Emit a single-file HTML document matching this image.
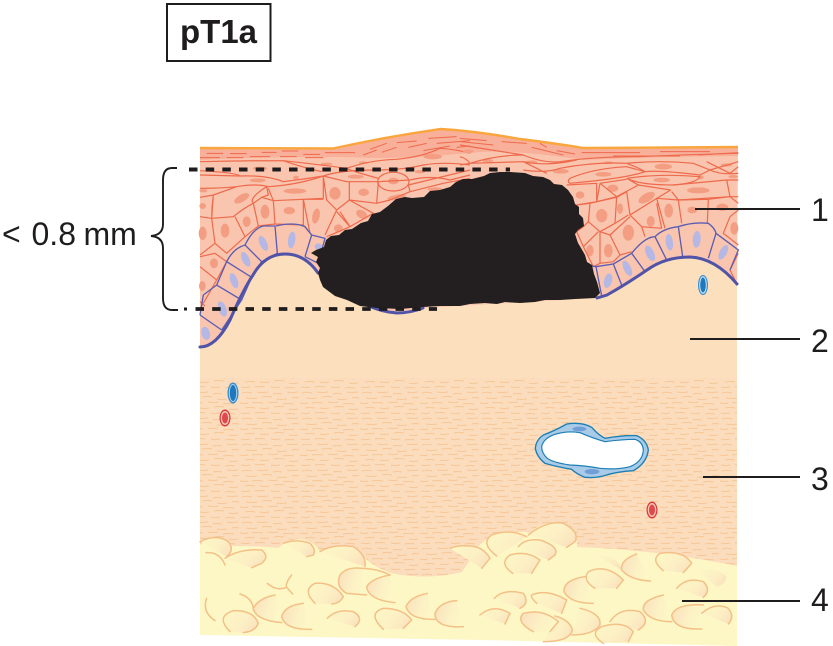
<!DOCTYPE html>
<html><head><meta charset="utf-8"><style>
html,body{margin:0;padding:0;background:#fff;width:833px;height:646px;overflow:hidden}
svg{display:block}
text{font-family:"Liberation Sans",sans-serif;fill:#1f1c1d}
</style></head><body>
<svg width="833" height="646" viewBox="0 0 833 646" xmlns="http://www.w3.org/2000/svg">
<defs>
<pattern id="fib" width="60" height="26" patternUnits="userSpaceOnUse">
<rect width="60" height="26" fill="#fbdcbc"/>
<path d="M2 3q5-1.500 10 0M17 2q5 1 11 0M33 4q4-1 9 0M47 2q5 1 11 0M6 8q6 1 11 0M22 7q5-1 10 0M37 9q5 1 10 0M52 8q3-1 7 0M0 13q5 1 8 0M12 13q5-1 11 0M28 12q5 1 10 0M43 14q5-1 11 0M5 18q5-1 10 0M20 18q4 1 9 0M34 17q5-1 10 0M49 19q4 1 9 0M1 23q5 1 9 0M15 23q5-1 10 0M31 23q4 1 9 0M45 24q5-1 10 0" fill="none" stroke="#f7c797" stroke-width="1.100"/>
</pattern>
<linearGradient id="lump" x1="0" y1="0.2" x2="1" y2="0.7">
<stop offset="0" stop-color="#fdf7c6"/><stop offset="0.6" stop-color="#fcefc4"/><stop offset="1" stop-color="#fae2be"/>
</linearGradient>
<linearGradient id="lumpL" x1="0" y1="0.3" x2="1" y2="0.6">
<stop offset="0" stop-color="#fae1bd"/><stop offset="0.6" stop-color="#fcf2c5"/><stop offset="1" stop-color="#fdf7c6"/>
</linearGradient>
</defs>

<!-- dermis -->
<rect x="200" y="250" width="537" height="135" fill="#fcdfbd"/>
<rect x="200" y="378" width="537" height="200" fill="url(#fib)"/>

<!-- fat base -->
<path d="M200 545Q212 535 232 546Q262 546 278 548Q298 532 315 545Q322 552 318 552Q340 540 362 556Q378 570 395 574Q430 580 462 572L470 560Q475 545 492 536Q520 530 530 533Q545 518 565 525Q578 535 577 547Q660 550 737 566L737 646L480 640L200 635Z" fill="#fdf7c6"/>

<!-- fat lumps left -->
<g transform="translate(190 500) scale(.33333)" fill="url(#lumpL)" stroke="#f3c087" stroke-width="4.500" stroke-linecap="round" stroke-linejoin="round">
<path d="M30 125Q80 100 115 125Q135 150 110 170" fill="url(#lump)"/>
<path d="M48 158Q90 155 105 195" fill="none"/>
<path d="M105 175Q150 145 215 150Q240 170 215 190L185 203" fill="url(#lump)"/>
<path d="M280 130Q320 115 360 130Q380 150 370 165L350 170" fill="url(#lump)"/>
<path d="M390 155Q430 130 490 140Q530 165 525 200" fill="url(#lump)"/>
<path d="M515 205Q560 205 600 225" fill="none"/>
<path d="M515 205Q470 200 450 225Q435 260 470 280L530 285"/>
<path d="M600 225Q545 235 530 260Q535 300 615 308"/>
<path d="M375 310Q335 270 375 250Q430 245 460 290Q450 310 425 312" fill="url(#lump)"/>
<path d="M75 362Q35 335 50 295" fill="none"/>
<path d="M150 282Q190 295 190 330" fill="none"/>
<path d="M120 395Q75 350 130 332Q190 330 205 370Q195 395 160 398" fill="url(#lump)"/>
<path d="M255 285Q205 295 190 325Q195 360 275 368"/>
<path d="M365 388Q285 390 275 350Q285 315 340 310"/>
<path d="M412 355Q440 325 490 335Q525 355 495 380" fill="url(#lump)"/>
<path d="M580 388Q530 340 580 325Q640 325 665 360L640 385" fill="url(#lump)"/>
<path d="M712 280Q660 290 648 320Q660 360 735 358"/>
<path d="M820 380Q735 385 735 340Q750 305 800 302"/>
<path d="M232 250Q260 275 290 262M305 225Q285 250 290 262L308 282" fill="none"/>
</g>
<g transform="translate(460 400) scale(.33333)" fill="url(#lumpL)" stroke="#f3c087" stroke-width="4.500" stroke-linecap="round" stroke-linejoin="round">
<path d="M205 405Q260 360 310 370Q360 395 345 425L320 442" fill="url(#lump)"/>
<path d="M110 468Q60 430 95 405Q150 385 200 410" fill="url(#lump)"/>
<path d="M175 440Q195 415 240 420Q300 440 285 465L265 480" fill="url(#lump)"/>
<path d="M158 520Q115 490 150 465Q200 450 240 480L215 520" fill="url(#lump)"/>
<path d="M-30 445Q-5 435 30 438Q70 440 90 475L65 505" fill="url(#lump)"/>
<path d="M400 462Q475 465 485 510" fill="url(#lump)" stroke="none"/>
<path d="M530 462Q480 480 485 510Q510 540 572 543"/>
<path d="M610 512Q570 480 600 460Q670 450 695 490L670 518" fill="url(#lump)"/>
<path d="M405 565Q365 540 385 515Q440 490 490 540L470 565" fill="url(#lump)"/>
<path d="M375 530Q310 540 312 575Q330 610 400 610"/>
<path d="M710 510Q770 500 800 530Q795 555 770 560" fill="url(#lump)" stroke="none"/>
<path d="M650 565Q680 530 730 545Q755 570 730 592" fill="url(#lump)"/>
<path d="M610 585Q545 600 550 630Q570 665 635 665"/>
<path d="M725 687Q640 690 635 645Q650 610 730 615"/>
<path d="M725 640Q765 605 805 625Q825 650 805 672" fill="url(#lump)"/>
<path d="M103 595Q130 565 190 580Q210 610 180 625" fill="url(#lump)"/>
<path d="M230 610Q210 590 215 585Q260 565 320 600L305 640" fill="url(#lump)"/>
<path d="M60 645Q100 610 150 640L135 672" fill="url(#lump)"/>
<path d="M360 625Q425 640 420 675Q400 705 335 705" fill="url(#lump)"/>
<path d="M250 725Q330 725 337 690Q330 660 285 648" fill="url(#lump)"/>
<path d="M220 695Q165 665 190 640Q250 625 295 665L270 695" fill="url(#lumpL)"/>
<path d="M450 665Q480 620 540 635Q575 665 535 690" fill="url(#lump)"/>
<path d="M430 730Q385 700 425 680Q490 660 520 695L505 725" fill="url(#lump)"/>
</g>

<!-- epidermis -->
<path d="M200 147L333 148Q385 137 440 129Q475 131 520 139Q560 144 583 148L738 147L737 284Q715 258 690 257Q665 257 647 270Q625 285 607 295L597 298L423 308L397 313L363 303Q335 290 318 273Q305 254 285 254Q265 254 253 275Q240 295 230 320Q215 346 200 347Z" fill="#f9c5af"/>
<path d="M200 147L333 148Q385 137 440 129Q475 131 520 139Q560 144 583 148L738 147L738 156Q640 157 585 160Q520 150 480 152Q420 158 375 158Q300 155 200 160Z" fill="#f8b09a"/>
<path d="M200 148L333 148.500Q385 137 440 129Q475 131 520 139Q560 144 583 148L738 147" fill="none" stroke="#f8a63d" stroke-width="2.400"/>

<!-- keratinocytes left -->
<g transform="translate(190 120) scale(.33333)">
<g fill="#f39e82">
<ellipse cx="155" cy="235" rx="25" ry="11" transform="rotate(-30 155 235)"/><ellipse cx="315" cy="213" rx="34" ry="8"/>
<ellipse cx="435" cy="220" rx="17" ry="19"/><ellipse cx="521" cy="217" rx="16" ry="11"/>
<ellipse cx="610" cy="183" rx="16" ry="10"/><ellipse cx="225" cy="275" rx="13" ry="21"/>
<ellipse cx="298" cy="272" rx="17" ry="11"/><ellipse cx="378" cy="288" rx="11" ry="23" transform="rotate(12 378 288)"/>
<ellipse cx="170" cy="305" rx="12" ry="16"/><ellipse cx="105" cy="332" rx="13" ry="21"/>
<ellipse cx="38" cy="340" rx="12" ry="20"/><ellipse cx="72" cy="430" rx="12" ry="15"/>
<ellipse cx="37" cy="498" rx="10" ry="15"/><ellipse cx="445" cy="325" rx="13" ry="12"/>
<ellipse cx="515" cy="283" rx="18" ry="12" transform="rotate(30 515 283)"/><ellipse cx="38" cy="258" rx="10" ry="9"/>
<ellipse cx="203" cy="181" rx="24" ry="6"/><ellipse cx="318" cy="173" rx="9" ry="6"/>
<ellipse cx="497" cy="170" rx="24" ry="6"/><ellipse cx="410" cy="132" rx="18" ry="4"/>
<ellipse cx="520" cy="128" rx="14" ry="4"/><ellipse cx="728" cy="110" rx="28" ry="8"/>
<ellipse cx="620" cy="232" rx="28" ry="8" transform="rotate(-10 620 232)"/><ellipse cx="690" cy="155" rx="16" ry="5"/>
<ellipse cx="210" cy="145" rx="22" ry="5"/><ellipse cx="735" cy="208" rx="22" ry="6"/><ellipse cx="40" cy="212" rx="12" ry="5"/>
</g>
<g fill="none" stroke="#ee6a4c" stroke-width="3.600" stroke-linejoin="round">
<path d="M30 125Q150 122 280 122Q400 135 470 145Q540 120 620 118Q700 110 750 85Q800 88 840 100"/>
<path d="M30 165L150 168Q230 165 280 185Q340 178 400 168Q450 150 560 150Q640 150 700 135Q760 125 840 135"/>
<path d="M280 122Q330 140 395 155M470 145Q490 155 565 175M150 168Q140 158 30 152M400 168L470 185L565 185"/>
<path d="M30 205Q90 205 140 200L70 225L30 232M70 225L140 200Q200 190 235 200Q320 195 400 168"/>
<path d="M70 225L65 295L30 290M70 225Q65 260 65 295L130 290Q160 265 190 250Q175 235 230 200L235 225L215 232L190 250"/>
<path d="M235 205L250 242L400 235L400 170M215 232L250 242L255 312L205 318L190 250M255 312L340 315L340 238M250 242L340 238L400 238"/>
<path d="M400 170L410 240L440 270L478 240L478 185M478 240L560 250L565 185M440 270L405 345M340 238L360 340M340 315L365 345"/>
<path d="M135 290L165 350L205 318M65 295L75 370L110 400L165 350M75 370L30 405M30 410L75 400L110 425L80 480L30 440M80 480L40 550"/>
<path d="M450 275L480 320L550 280L478 240M440 275L480 320L410 350M560 250L600 240L660 215L760 190L840 175M660 215L655 195L840 150"/>
<ellipse cx="610" cy="185" rx="47" ry="28"/>
<path d="M565 185L660 180M660 180Q720 165 780 180L840 165M30 545L45 558"/>
</g>
<path d="M50 100H100M120 101H170M215 97H260M275 93H325M340 103H390M405 98H495M540 88L590 70M620 68L680 63M715 55L800 50M30 113H90M110 113H160M180 110H240M270 110H320M345 113H400M520 105L560 90M575 97L620 82M655 82L710 70M740 70L840 62M700 92L780 78M800 82L840 78" fill="none" stroke="#ee6a4c" stroke-width="3"/>
</g>

<!-- keratinocytes right -->
<g transform="translate(460 120) scale(.33333)">
<g fill="#f39e82">
<ellipse cx="360" cy="225" rx="13" ry="11"/><ellipse cx="458" cy="205" rx="17" ry="11"/>
<ellipse cx="560" cy="233" rx="27" ry="13" transform="rotate(-30 560 233)"/><ellipse cx="715" cy="211" rx="34" ry="9"/>
<ellipse cx="480" cy="266" rx="9" ry="16"/><ellipse cx="425" cy="287" rx="17" ry="20"/>
<ellipse cx="626" cy="272" rx="13" ry="21"/><ellipse cx="697" cy="270" rx="15" ry="10"/>
<ellipse cx="787" cy="262" rx="18" ry="11"/><ellipse cx="572" cy="304" rx="12" ry="16"/>
<ellipse cx="505" cy="338" rx="17" ry="24"/><ellipse cx="445" cy="392" rx="13" ry="20"/>
<ellipse cx="390" cy="392" rx="11" ry="17"/><ellipse cx="823" cy="325" rx="12" ry="19"/>
<ellipse cx="610" cy="140" rx="26" ry="9"/><ellipse cx="430" cy="163" rx="24" ry="7"/>
<ellipse cx="605" cy="180" rx="25" ry="7"/><ellipse cx="302" cy="154" rx="24" ry="7"/>
<ellipse cx="722" cy="172" rx="9" ry="6"/><ellipse cx="800" cy="135" rx="18" ry="5"/>
<ellipse cx="25" cy="94" rx="16" ry="6"/><ellipse cx="84" cy="122" rx="16" ry="5"/>
<ellipse cx="215" cy="126" rx="18" ry="5"/><ellipse cx="445" cy="128" rx="15" ry="4"/><ellipse cx="820" cy="170" rx="15" ry="5"/>
</g>
<g fill="none" stroke="#ee6a4c" stroke-width="3.600" stroke-linejoin="round">
<path d="M0 75L190 105Q250 130 300 125Q400 110 540 110Q650 105 835 100"/>
<path d="M0 110Q20 115 30 130Q110 105 190 105M30 130L190 125L260 160M0 135L30 130M190 125Q260 140 350 120"/>
<path d="M190 150Q260 160 300 145Q400 125 500 130Q600 120 700 130L750 150L835 125M740 125L810 160L835 140"/>
<path d="M500 130Q540 145 555 155Q600 150 720 165L750 150Q780 165 835 160"/>
<path d="M330 175Q400 145 500 140L555 155Q500 175 330 190Q320 185 330 175"/>
<path d="M500 175Q600 160 720 170Q710 190 640 195Q540 195 500 175M500 175L535 195"/>
<path d="M420 190L500 178M470 230L535 195L632 210M320 195L410 190L410 245L350 255M420 190L410 245L470 230L420 190"/>
<path d="M640 195L800 180L810 230L655 240L635 215M800 180H835M810 230H835"/>
<path d="M500 215L510 285L590 235L632 210M470 232L500 215M470 230L465 310L505 285M390 250L470 232M390 250L385 305L420 335L465 310M350 255L390 250M385 305L370 320L350 335"/>
<path d="M590 235L655 240L665 310M590 235L615 325M745 238L742 310M655 240L745 238M510 285L545 320L605 325M590 250L605 325M545 320L555 350"/>
<path d="M745 238L810 230L835 250M810 290L790 340L835 375M810 290L835 270"/>
<path d="M450 345L510 290M450 345L480 405L515 395M420 335L450 345M420 335L420 430L460 425L480 405M370 380L415 335M370 380L400 440L420 430M350 335L370 380"/>
<path d="M835 400L810 450L830 490"/>
</g>
<path d="M0 55L80 62M0 65L100 75M125 65L200 70M215 82L310 105M240 70L260 82M290 92L345 102M365 98H540M460 108H660M600 95H750M715 105L835 98" fill="none" stroke="#ee6a4c" stroke-width="3"/>
</g>

<!-- basal cells left -->
<g transform="translate(190 120) scale(.33333)">
<g fill="#b5b8e4">
<ellipse cx="47" cy="640" rx="13" ry="20" transform="rotate(-15 47 640)"/>
<ellipse cx="97" cy="567" rx="12" ry="24" transform="rotate(-20 97 567)"/>
<ellipse cx="132" cy="482" rx="11" ry="24" transform="rotate(-20 132 482)"/>
<ellipse cx="167" cy="418" rx="11" ry="24" transform="rotate(-25 167 418)"/>
<ellipse cx="220" cy="370" rx="11" ry="24" transform="rotate(-25 220 370)"/>
<ellipse cx="305" cy="360" rx="11" ry="25" transform="rotate(8 305 360)"/>
<ellipse cx="385" cy="380" rx="11" ry="10"/>
</g>
<path d="M30 585L95 630M40 525L30 585M40 525L80 495L155 540L95 630M80 495L110 425L185 472L155 540M110 425Q130 385 165 375L215 425L185 472M165 375Q190 325 220 318L255 318L262 400L215 425M258 318Q310 305 345 320L365 345L345 410M365 345L405 355L385 430L345 410" fill="none" stroke="#5b5db2" stroke-width="4"/>
</g>
<g transform="translate(460 120) scale(.33333)">
<g fill="#b5b8e4">
<ellipse cx="444" cy="482" rx="12" ry="22" transform="rotate(15 444 482)"/>
<ellipse cx="502" cy="445" rx="11" ry="25" transform="rotate(-25 502 445)"/>
<ellipse cx="570" cy="400" rx="12" ry="25" transform="rotate(-25 570 400)"/>
<ellipse cx="628" cy="367" rx="11" ry="25" transform="rotate(-8 628 367)"/>
<ellipse cx="710" cy="358" rx="12" ry="25" transform="rotate(5 710 358)"/>
<ellipse cx="790" cy="397" rx="11" ry="24" transform="rotate(28 790 397)"/>
</g>
<path d="M380 435L408 440M408 440L425 528M408 440L460 432L485 495M460 432L515 400L555 455M515 400Q555 350 585 350L620 420M585 350Q610 325 655 320L668 410M655 320Q700 305 745 310Q765 325 768 340L745 415M768 340L835 390L810 450" fill="none" stroke="#5b5db2" stroke-width="4"/>
</g>
<path d="M200 347Q216 347 230 320Q243 290 253 275Q265 254 285 254Q305 254 318 273M363 303Q380 312 397 313Q410 313 423 308M597 298L607 295Q625 285 647 270Q665 257 690 257Q715 258 737 284" fill="none" stroke="#5053a8" stroke-width="3" stroke-linecap="round"/>

<!-- tumor -->
<path d="M311 253L316 250L324 247L326 240L331 236L339 235L345 230L352 229L361 223L368 221L372 214L380 212L388 206L396 199L405 197L412 198L424 197L430 191L440 190L450 187L456 182L463 179L472 179L484 176L490 173L500 172L510 172L525 173L533 176L543 177L550 180L554 184L562 185L568 190L573 197L575 204L579 207L579 214L583 218L584 226L578 230L575 234L578 243L581 248L585 255L587 262L592 265L594 274L597 282L600 293L595 298L575 299L560 300L545 300L535 302L520 303L505 302L497 304L485 303L470 304L460 306L440 306L423 307L400 309L377 308L360 306L347 300L335 296L323 287L320 280L318 273L320 268L316 262L318 257Z" fill="#231f20"/>

<!-- vessels -->
<g transform="translate(703 285)"><ellipse rx="5" ry="10" fill="#3a8fd0"/><ellipse rx="3.800" ry="8.800" fill="#cfe8f6"/><ellipse rx="2.800" ry="7.500" fill="#1f77bd"/></g>
<g transform="translate(233 393)"><ellipse rx="5.500" ry="10.500" fill="#3a8fd0"/><ellipse rx="4.200" ry="9" fill="#a7d2ee"/><ellipse rx="3.200" ry="8" fill="#1f77bd"/></g>
<g transform="translate(225 418)"><ellipse rx="5.500" ry="8.500" fill="#d8393f"/><ellipse rx="4.300" ry="7" fill="#f7c6b0"/><ellipse rx="3" ry="5.500" fill="#dd4a4d"/></g>
<g transform="translate(652 510)"><ellipse rx="5.500" ry="8.500" fill="#d8393f"/><ellipse rx="4.300" ry="7" fill="#f7c6b0"/><ellipse rx="3" ry="5.500" fill="#dd4a4d"/></g>
<g transform="translate(460 400) scale(.33333)">
<path d="M226 145Q228 120 250 105Q285 92 320 72Q365 65 395 82Q415 105 435 115Q490 105 530 107Q560 120 565 150Q560 190 520 212Q470 215 440 225Q410 235 375 232Q350 222 335 208Q290 200 255 190Q230 170 226 145Z" fill="#a9cbe8" stroke="#1c7fb4" stroke-width="4"/>
<path d="M245 140Q250 115 285 103Q320 92 360 98Q400 115 435 125Q490 118 525 118Q548 125 550 150Q548 185 510 200Q470 210 420 205Q370 196 330 195Q280 188 262 175Q245 160 245 140Z" fill="#fff" stroke="#1c7fb4" stroke-width="3.500"/>
<ellipse cx="358" cy="87" rx="21" ry="7" fill="#6f9fd6"/><ellipse cx="396" cy="215" rx="22" ry="8" fill="#6f9fd6"/>
</g>

<!-- measure -->
<path d="M189 169.500H510" stroke="#1f1c1d" stroke-width="4" stroke-dasharray="8.500 8.170" fill="none"/>
<path d="M195.500 309H437" stroke="#1f1c1d" stroke-width="3.800" stroke-dasharray="8.500 8.170" fill="none"/>
<path d="M184 309h3" stroke="#1f1c1d" stroke-width="3" fill="none"/>
<path d="M177 168H172Q163 168 163 180V224Q163 235 151 236Q163 237 163 248V298Q163 310 172 310H178" fill="none" stroke="#1f1c1d" stroke-width="1.900"/>

<!-- leaders -->
<path d="M695 209H800M690 339H800M703 477H800M682 601H800" stroke="#1f1c1d" stroke-width="2" fill="none"/>

<!-- labels -->
<rect x="167" y="4" width="103.500" height="57" fill="#fff" stroke="#1f1c1d" stroke-width="2"/>
<text x="180" y="43" font-size="33" font-weight="700">pT1a</text>
<text y="245" font-size="32"><tspan x="2">&lt;</tspan><tspan x="31.500">0.8</tspan><tspan x="83.500">mm</tspan></text>
<text x="811" y="221" font-size="32">1</text>
<text x="811" y="352" font-size="32">2</text>
<text x="811" y="490" font-size="32">3</text>
<text x="811" y="611" font-size="32">4</text>
</svg>
</body></html>
